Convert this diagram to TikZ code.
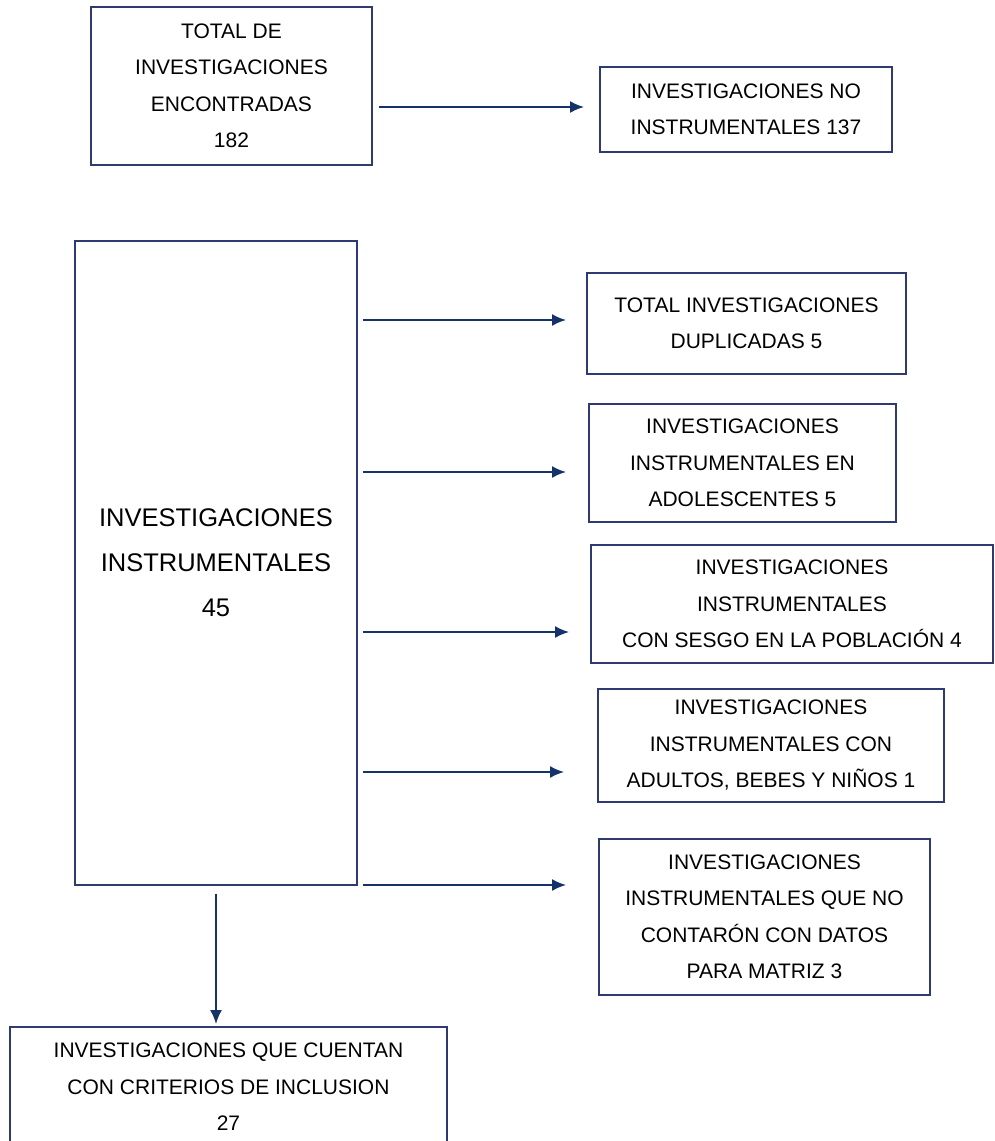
\documentclass[tikz,border=0pt]{standalone}
\usepackage{fontspec}
\setmainfont{Liberation Sans}
\usetikzlibrary{arrows.meta}
\definecolor{FLWbox}{HTML}{2F3A73}
\definecolor{FLWarrow}{HTML}{15326A}
\tikzset{
  countbox/.style={draw=FLWbox, line width=1.8pt, fill=white, align=center, inner sep=0pt, font=\fontsize{21}{36.5}\selectfont, text=black},
  bigbox/.style={countbox, font=\fontsize{25.5}{45}\selectfont},
  flowarr/.style={-{Latex[length=14pt,width=12pt]}, line width=2.1pt, draw=FLWarrow}
}
\begin{document}
\begin{tikzpicture}[x=1pt, y=-1pt]
  \clip (0,0) rectangle (994,1141);
  \fill[white] (0,0) rectangle (994,1141);
  \node[countbox, minimum width=281pt, minimum height=158pt] (tot) at (231.5,86) {TOTAL DE\\INVESTIGACIONES\\ENCONTRADAS\\182};
  \node[countbox, minimum width=292pt, minimum height=85pt] (noinst) at (746,109.5) {INVESTIGACIONES NO\\INSTRUMENTALES 137};
  \node[bigbox, minimum width=282pt, minimum height=644pt] (inst) at (216,563) {INVESTIGACIONES\\INSTRUMENTALES\\45};
  \node[countbox, minimum width=319pt, minimum height=101pt] (dup) at (746.5,323.5) {TOTAL INVESTIGACIONES\\DUPLICADAS 5};
  \node[countbox, minimum width=307pt, minimum height=118pt] (ado) at (742.5,463) {INVESTIGACIONES\\INSTRUMENTALES EN\\ADOLESCENTES 5};
  \node[countbox, minimum width=402pt, minimum height=118pt] (ses) at (792,604) {INVESTIGACIONES\\INSTRUMENTALES\\CON SESGO EN LA POBLACIÓN 4};
  \node[countbox, minimum width=346pt, minimum height=113pt] (adu) at (771,745.5) {INVESTIGACIONES\\INSTRUMENTALES CON\\ADULTOS, BEBES Y NIÑOS 1};
  \node[countbox, minimum width=331pt, minimum height=156pt] (mat) at (764.5,917) {INVESTIGACIONES\\INSTRUMENTALES QUE NO\\CONTARÓN CON DATOS\\PARA MATRIZ 3};
  \node[countbox, minimum width=437pt, minimum height=120pt] (incl) at (228.5,1087) {INVESTIGACIONES QUE CUENTAN\\CON CRITERIOS DE INCLUSION\\27};
  \draw[flowarr, shorten <=6pt, shorten >=15pt] ([yshift=2.5pt]tot.east |- noinst.west) -- ([yshift=2.5pt]noinst.west);
  \foreach \t/\dy/\gap in {dup/3.5/20, ado/-9/22, ses/-28/21, adu/-26.5/33, mat/32/32} {
    \coordinate (in-\t) at ([yshift=\dy pt]\t.west);
    \draw[flowarr, shorten <=5pt, shorten >=\gap pt] (inst.east |- in-\t) -- (in-\t);
  }
  \draw[flowarr, shorten <=8pt, shorten >=2pt] (inst.south) -- (inst.south |- incl.north);
\end{tikzpicture}
\end{document}
